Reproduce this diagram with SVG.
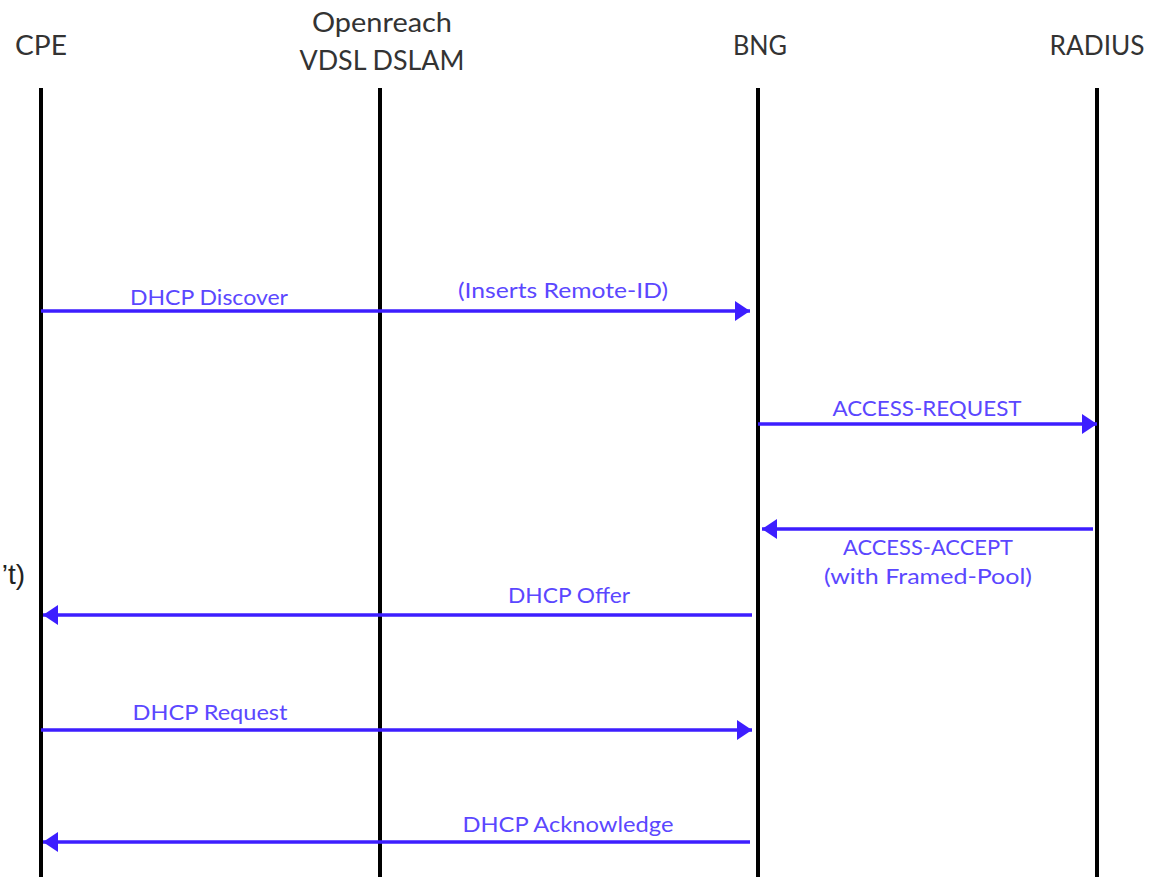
<svg xmlns="http://www.w3.org/2000/svg" width="1161" height="877" viewBox="0 0 1161 877">
<style>
.hdr{font-family:"Lato","Open Sans",sans-serif;font-size:26px;fill:#333;text-anchor:middle}
.lbl{font-family:"Lato","Open Sans",sans-serif;font-size:21px;fill:#5b47ff;text-anchor:middle}
.life{stroke:#000;stroke-width:4;fill:none}
.msg{stroke:#3d1eff;stroke-width:3.5;fill:none}
.frag{font-family:"Liberation Sans",sans-serif;font-size:28px;fill:#222;text-anchor:end}
</style>
<defs>
<marker id="ah" markerUnits="userSpaceOnUse" markerWidth="16" markerHeight="22" viewBox="0 0 16 22" refX="15" refY="11" orient="auto">
<path d="M0,1 L15,11 L0,21 Z" fill="#3d1eff"/>
</marker>
</defs>
<rect width="1161" height="877" fill="#fff"/>
<g id="cpe">
<text class="hdr" x="41" y="55" textLength="52" lengthAdjust="spacingAndGlyphs">CPE</text>
<line class="life" x1="41" y1="88" x2="41" y2="877"/>
</g>
<g id="dslam">
<text class="hdr" x="382" y="32" textLength="140" lengthAdjust="spacingAndGlyphs">Openreach</text>
<text class="hdr" x="382" y="70" textLength="165" lengthAdjust="spacingAndGlyphs">VDSL DSLAM</text>
<line class="life" x1="380" y1="88" x2="380" y2="877"/>
</g>
<g id="bng">
<text class="hdr" x="760" y="55" textLength="54" lengthAdjust="spacingAndGlyphs">BNG</text>
<line class="life" x1="758" y1="88" x2="758" y2="877"/>
</g>
<g id="radius">
<text class="hdr" x="1097" y="55" textLength="95" lengthAdjust="spacingAndGlyphs">RADIUS</text>
<line class="life" x1="1097" y1="88" x2="1097" y2="877"/>
</g>
<text class="frag" x="25" y="584">’t)</text>
<g id="connectors">
<line class="msg" x1="41" y1="311" x2="750" y2="311" marker-end="url(#ah)"/>
<text class="lbl" x="209" y="305" textLength="158" lengthAdjust="spacingAndGlyphs">DHCP Discover</text>
<text class="lbl" x="563" y="298" textLength="210" lengthAdjust="spacingAndGlyphs">(Inserts Remote-ID)</text>
<line class="msg" x1="758" y1="424" x2="1097" y2="424" marker-end="url(#ah)"/>
<text class="lbl" x="927" y="416" textLength="189" lengthAdjust="spacingAndGlyphs">ACCESS-REQUEST</text>
<line class="msg" x1="1093" y1="529" x2="762" y2="529" marker-end="url(#ah)"/>
<text class="lbl" x="928" y="555" textLength="170" lengthAdjust="spacingAndGlyphs">ACCESS-ACCEPT</text>
<text class="lbl" x="928" y="584" textLength="208" lengthAdjust="spacingAndGlyphs">(with Framed-Pool)</text>
<line class="msg" x1="752" y1="615" x2="43" y2="615" marker-end="url(#ah)"/>
<text class="lbl" x="569" y="603" textLength="122" lengthAdjust="spacingAndGlyphs">DHCP Offer</text>
<line class="msg" x1="41" y1="730" x2="752" y2="730" marker-end="url(#ah)"/>
<text class="lbl" x="210" y="720" textLength="155" lengthAdjust="spacingAndGlyphs">DHCP Request</text>
<line class="msg" x1="750" y1="842" x2="43" y2="842" marker-end="url(#ah)"/>
<text class="lbl" x="568" y="832" textLength="211" lengthAdjust="spacingAndGlyphs">DHCP Acknowledge</text>
</g>
</svg>
